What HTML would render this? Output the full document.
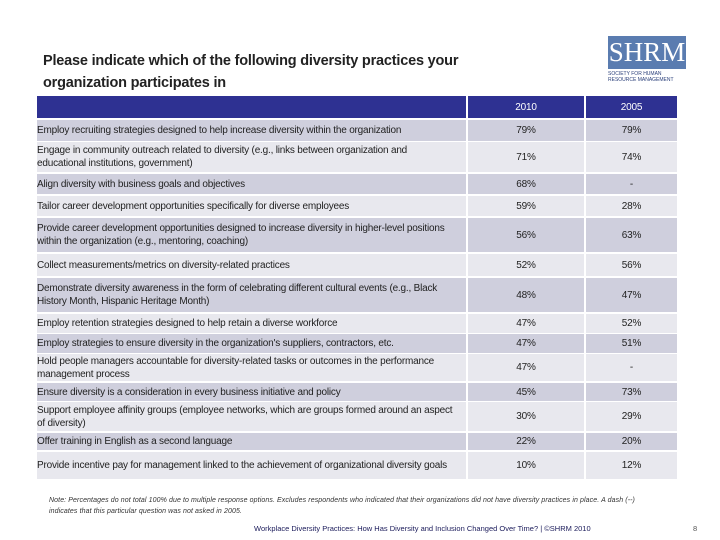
<!DOCTYPE html>
<html><head><meta charset="utf-8">
<style>
body{margin:0;width:720px;height:540px;background:#fff;position:relative;overflow:hidden;font-family:"Liberation Sans",sans-serif;}
.abs{position:absolute;}
.title{left:43px;top:50px;font-size:14.5px;line-height:22px;color:#222;font-weight:bold;letter-spacing:-0.2px;}
.cell{position:absolute;box-sizing:border-box;display:flex;align-items:center;font-size:10px;line-height:13px;color:#222;letter-spacing:-0.2px;}
.lbl{padding-right:12px;}
.num{justify-content:center;}
</style></head>
<body>
<div class="abs title">Please indicate which of the following diversity practices your<br>organization participates in</div>
<div class="abs" style="left:608px;top:36px;width:78px;height:52px;">
  <div style="width:78px;height:33px;background:#5a7cb0;color:#fff;font-family:'Liberation Serif',serif;font-size:27px;line-height:33px;text-align:center;">SHRM</div>
  <div style="font-size:5px;line-height:6px;color:#2a3f7a;margin-top:2px;white-space:nowrap;">SOCIETY FOR HUMAN<br>RESOURCE MANAGEMENT</div>
</div>
<div id="tbl"></div>
<div class="abs" style="left:49px;top:495px;font-size:7px;line-height:11px;font-style:italic;color:#333;width:600px;letter-spacing:0.1px;">Note: Percentages do not total 100% due to multiple response options. Excludes respondents who indicated that their organizations did not have diversity practices in place. A dash (--) indicates that this particular question was not asked in 2005.</div>
<div class="abs" style="left:254px;top:524px;font-size:7.5px;color:#1a1a5a;">Workplace Diversity Practices: How Has Diversity and Inclusion Changed Over Time? | ©SHRM 2010</div>
<div class="abs" style="left:693px;top:524px;font-size:7.5px;color:#555;">8</div>
<script>
const practices=["Employ recruiting strategies designed to help increase diversity within the organization","Engage in community outreach related to diversity (e.g., links between organization and educational institutions, government)","Align diversity with business goals and objectives","Tailor career development opportunities specifically for diverse employees","Provide career development opportunities designed to increase diversity in higher-level positions within the organization (e.g., mentoring, coaching)","Collect measurements/metrics on diversity-related practices","Demonstrate diversity awareness in the form of celebrating different cultural events (e.g., Black History Month, Hispanic Heritage Month)","Employ retention strategies designed to help retain a diverse workforce","Employ strategies to ensure diversity in the organization's suppliers, contractors, etc.","Hold people managers accountable for diversity-related tasks or outcomes in the performance management process","Ensure diversity is a consideration in every business initiative and policy","Support employee affinity groups (employee networks, which are groups formed around an aspect of diversity)","Offer training in English as a second language","Provide incentive pay for management linked to the achievement of organizational diversity goals"];
const values2010=["79%","71%","68%","59%","56%","52%","48%","47%","47%","47%","45%","30%","22%","10%"];
const values2005=["79%","74%","-","28%","63%","56%","47%","52%","51%","-","73%","29%","20%","12%"];
const years=["2010","2005"];
const rowTops=[120,142,174,196,218,254,278,314,334,354,383,402,433,452];
const rowBottoms=[141,172,194,216,252,276,312,333,353,381,401,431,450,479];
const cols=[[37,466],[468,584],[586,677]];
const tbl=document.getElementById('tbl');
function mk(x,y,w,h,bg,txt,cls,color,name){
  const d=document.createElement('div');
  d.className='cell '+cls;
  d.style.left=x+'px';d.style.top=y+'px';d.style.width=w+'px';d.style.height=h+'px';
  d.style.background=bg;d.style.color=color;
  d.textContent=txt;
  
  
  tbl.appendChild(d);return d;
}
mk(cols[0][0],96,cols[0][1]-cols[0][0],22,'#2e3192','','', '#fff','header-blank');
years.forEach((y,i)=>{mk(cols[i+1][0],96,cols[i+1][1]-cols[i+1][0],22,'#2e3192',y,'num','#fff','header-'+y);});
practices.forEach((p,i)=>{
  const bg=i%2===0?'#cfcfdd':'#e8e8ee';
  const t=rowTops[i],h=rowBottoms[i]-t;
  mk(cols[0][0],t,cols[0][1]-cols[0][0],h,bg,p,'lbl','#222','row-label-'+(i+1));
  mk(cols[1][0],t,cols[1][1]-cols[1][0],h,bg,values2010[i],'num','#222','value-2010-row-'+(i+1));
  mk(cols[2][0],t,cols[2][1]-cols[2][0],h,bg,values2005[i],'num','#222','value-2005-row-'+(i+1));
});
</script>
</body></html>
